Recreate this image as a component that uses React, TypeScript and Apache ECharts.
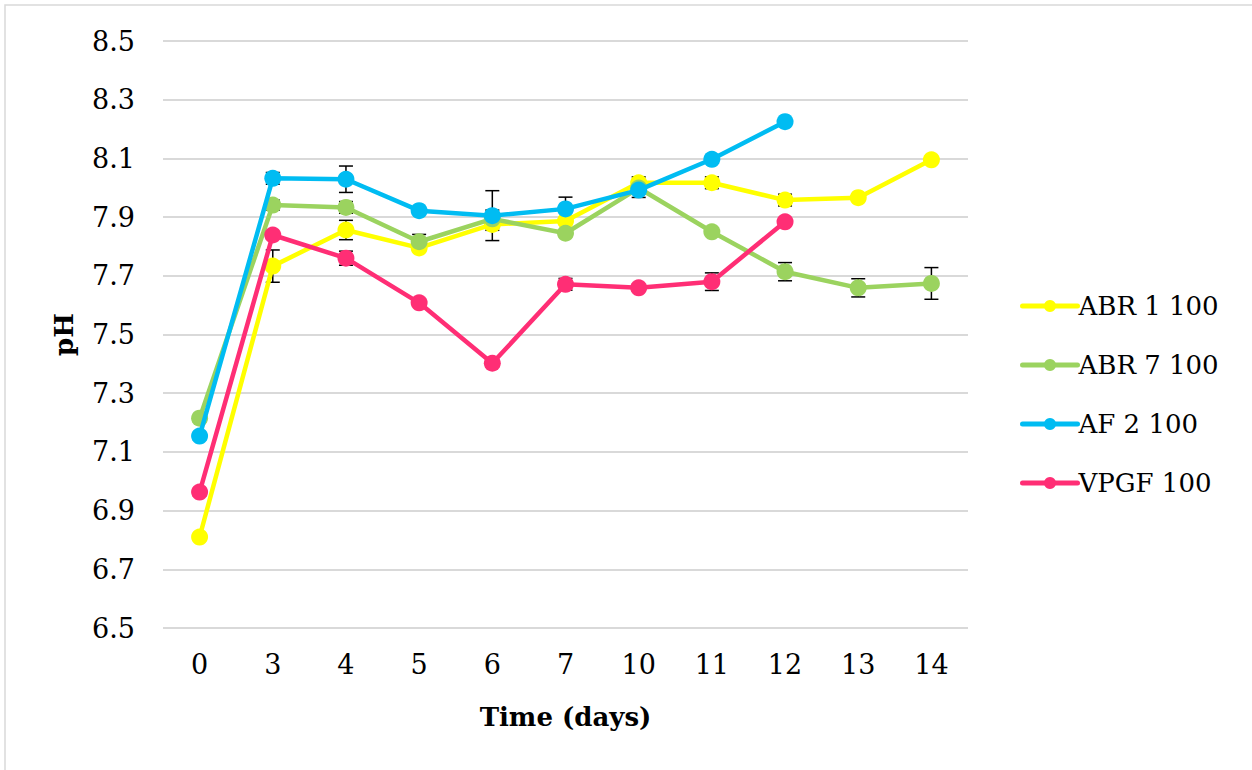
import React, { useEffect, useRef } from "react";
import * as echarts from "echarts";

const days = ["0", "3", "4", "5", "6", "7", "10", "11", "12", "13", "14"];
const seriesNames = ["ABR 1 100", "ABR 7 100", "AF 2 100", "VPGF 100"];
const colors = ["#FFFF00", "#9BD35F", "#00BCF2", "#FF2E75"];

const abr1 = [6.81, 7.733, 7.856, 7.795, 7.875, 7.887, 8.017, 8.017, 7.958, 7.966, 8.095];
const abr7 = [7.215, 7.941, 7.933, 7.816, 7.894, 7.845, 7.999, 7.85, 7.714, 7.659, 7.674];
const af2 = [7.154, 8.032, 8.029, 7.922, 7.905, 7.928, 7.992, 8.097, 8.225, null, null];
const vpgf = [6.963, 7.839, 7.76, 7.608, 7.402, 7.671, 7.659, 7.68, 7.884, null, null];

const abr1Err = [0.005, 0.055, 0.033, 0.01, 0.02, 0.01, 0.02, 0.02, 0.02, 0.005, 0.005];
const abr7Err = [0.005, 0.017, 0.02, 0.025, 0.03, 0.01, 0.01, 0.005, 0.031, 0.031, 0.054];
const af2Err = [0.005, 0.02, 0.045, 0.005, 0.085, 0.04, 0.025, 0.005, 0.005, null, null];
const vpgfErr = [0.005, 0.01, 0.024, 0.01, 0.01, 0.02, 0.01, 0.03, 0.005, null, null];

const yTickLabels = ["6.5", "6.7", "6.9", "7.1", "7.3", "7.5", "7.7", "7.9", "8.1", "8.3", "8.5"];

const Y_BASE = 6.5;
const FONT = "DejaVu Serif";

const allValues = [abr1, abr7, af2, vpgf];
const allErrors = [abr1Err, abr7Err, af2Err, vpgfErr];

export default function App() {
  const ref = useRef<HTMLDivElement>(null);

  useEffect(() => {
    if (!ref.current) return;
    const chart = echarts.init(ref.current, null, { renderer: "svg" });

    const lineSeries = seriesNames.map((name, i) => ({
      name,
      type: "line",
      data: allValues[i].map((v) => (v == null ? "-" : v - Y_BASE)),
      symbol: "circle",
      symbolSize: 17,
      lineStyle: { color: colors[i], width: 4.5 },
      itemStyle: { color: colors[i] },
      z: 3 + i,
      connectNulls: false,
    }));

    const errSeries = seriesNames.map((name, i) => ({
      name: "err_" + name,
      type: "custom",
      z: 2,
      silent: true,
      data: allValues[i]
        .map((v, j) => (v == null || allErrors[i][j] == null ? null : [j, v - Y_BASE, allErrors[i][j]]))
        .filter((d) => d != null),
      encode: { x: 0, y: 1 },
      renderItem: (params: any, api: any) => {
        const x = api.value(0);
        const y = api.value(1);
        const e = api.value(2);
        const top = api.coord([x, y + e]);
        const bot = api.coord([x, y - e]);
        const h = 7;
        const st = { stroke: "#000", lineWidth: 1.5 };
        return {
          type: "group",
          children: [
            { type: "line", shape: { x1: top[0], y1: top[1], x2: bot[0], y2: bot[1] }, style: st },
            { type: "line", shape: { x1: top[0] - h, y1: top[1], x2: top[0] + h, y2: top[1] }, style: st },
            { type: "line", shape: { x1: bot[0] - h, y1: bot[1], x2: bot[0] + h, y2: bot[1] }, style: st },
          ],
        };
      },
    }));

    chart.setOption({
      animation: false,
      backgroundColor: "#fff",
      textStyle: { fontFamily: FONT },
      graphic: [
        {
          type: "rect",
          shape: { x: 5, y: 5, width: 1260, height: 780 },
          style: { fill: "none", stroke: "#d9d9d9", lineWidth: 1.5 },
          silent: true,
        },
      ],
      grid: { left: 163, right: 284, top: 41, bottom: 142, containLabel: false },
      legend: {
        data: seriesNames,
        orient: "vertical",
        left: 1015,
        top: 286,
        itemWidth: 55,
        itemHeight: 15,
        itemGap: 29,
        lineStyle: { width: 5, cap: "round" },
        textStyle: { fontFamily: FONT, fontSize: 26, color: "#000", lineHeight: 30, padding: [0, 0, 0, -4] },
      },
      xAxis: {
        type: "category",
        data: days,
        boundaryGap: true,
        axisLine: { show: false },
        axisTick: { show: false },
        axisLabel: { fontFamily: FONT, fontSize: 27, color: "#000", margin: 23 },
        name: "Time (days)",
        nameLocation: "middle",
        nameGap: 76,
        nameTextStyle: { fontFamily: FONT, fontSize: 26, fontWeight: "bold", color: "#000" },
      },
      yAxis: {
        type: "value",
        min: 0,
        max: 2,
        interval: 0.2,
        axisLine: { show: false },
        axisTick: { show: false },
        axisLabel: {
          fontFamily: FONT,
          fontSize: 27,
          color: "#000",
          margin: 28,
          formatter: (v: number) => {
            const idx = Math.round(v / 0.2);
            return yTickLabels[idx] ?? (v + Y_BASE).toFixed(1);
          },
        },
        splitLine: { show: true, lineStyle: { color: "#d9d9d9", width: 2 } },
        name: "pH",
        nameLocation: "middle",
        nameGap: 86,
        nameTextStyle: { fontFamily: FONT, fontSize: 26, fontWeight: "bold", color: "#000" },
      },
      series: [...errSeries, ...lineSeries],
    });

    return () => chart.dispose();
  }, []);

  return (
    <div
      ref={ref}
      style={{ position: "fixed", left: 0, top: 0, width: 1252, height: 770, background: "#fff" }}
    />
  );
}
